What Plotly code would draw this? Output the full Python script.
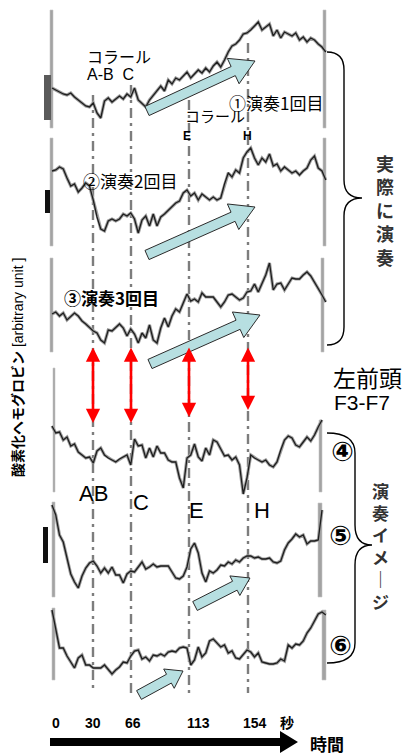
import plotly.graph_objects as go

W, H = 406, 755

# ---------------- data ----------------
# sample times (s) on the recording grid
t = list(range(0, 220, 3))

# oxy-Hb traces (arbitrary units), six recordings
p1 = [37, 35, 33, 31, 30, 32, 28, 25, 22, 19, 18, 22, 12, 7, 24, 27, 23, 26, 29, 26,
      31, 28, 37, 25, 21, 18, 25, 30, 35, 39, 34, 45, 41, 47, 45, 49, 53, 47, 51, 55,
      52, 57, 53, 59, 63, 58, 65, 73, 79, 81, 85, 91, 92, 95, 99, 103, 95, 98, 101, 89,
      95, 87, 93, 91, 89, 92, 85, 88, 83, 87, 85, 81, 78, 73]
p2 = [79, 80, 83, 81, 72, 64, 66, 58, 62, 67, 64, 50, 33, 21, 19, 29, 31, 29, 31, 36,
      34, 37, 31, 17, 30, 34, 24, 36, 24, 33, 36, 40, 43, 47, 49, 57, 60, 54, 57, 50,
      56, 53, 50, 53, 50, 52, 66, 77, 73, 80, 77, 92, 98, 102, 92, 85, 92, 88, 96, 84,
      86, 79, 83, 80, 77, 79, 75, 79, 82, 90, 94, 82, 79, 70]
p3 = [41, 43, 39, 42, 35, 39, 42, 39, 34, 31, 27, 24, 22, 15, 12, 25, 24, 28, 31, 27,
      19, 26, 21, 12, 22, 17, 30, 15, 12, 27, 37, 28, 39, 46, 43, 52, 61, 54, 56, 53,
      62, 58, 58, 58, 53, 48, 53, 60, 61, 58, 55, 57, 63, 64, 71, 63, 71, 80, 92, 65,
      71, 72, 65, 71, 77, 76, 76, 80, 83, 79, 73, 67, 60, 53]
p4 = [74, 67, 68, 60, 63, 54, 56, 48, 45, 42, 43, 37, 49, 52, 45, 42, 40, 38, 41, 43,
      45, 35, 61, 54, 55, 42, 52, 43, 54, 47, 47, 40, 38, 38, 22, 12, 42, 45, 56, 43,
      39, 52, 45, 60, 58, 51, 44, 45, 40, 43, 35, 6, 22, 45, 42, 40, 38, 40, 35, 33,
      38, 50, 60, 64, 62, 55, 53, 58, 63, 59, 65, 73, 80]
p5 = [95, 85, 65, 58, 42, 26, 18, 12, 24, 32, 37, 39, 34, 27, 32, 27, 33, 25, 25, 17,
      26, 29, 28, 33, 38, 31, 33, 36, 33, 34, 34, 34, 28, 22, 21, 24, 33, 51, 57, 47,
      27, 18, 29, 27, 30, 35, 34, 38, 36, 40, 38, 42, 44, 44, 42, 43, 41, 41, 42, 38,
      37, 39, 50, 57, 61, 66, 63, 65, 56, 59, 59, 60, 90]
p6 = [80, 62, 42, 42, 34, 28, 22, 32, 35, 25, 25, 22, 22, 22, 25, 20, 16, 20, 23, 28,
      27, 34, 39, 40, 31, 33, 29, 35, 34, 36, 34, 38, 39, 38, 42, 43, 42, 25, 30, 43,
      33, 37, 49, 51, 47, 43, 45, 37, 39, 32, 31, 35, 40, 38, 33, 37, 28, 27, 26, 26,
      27, 31, 29, 45, 42, 46, 45, 49, 57, 62, 69, 76, 78, 75]
series = [p1, p2, p3, p4, p5, p6]

# event markers (position on the time axis) and their labels
event_pos = [32.8, 63.2, 109.6, 156.8]
tick_pos = [3.2, 32.8, 64.8, 116.8, 162.4, 188.0]
tick_text = ["0", "30", "66", "113", "154", "秒"]

# ---------------- layout helpers ----------------
XR = [-41.6, 283.2]                      # time-axis range across the full width
panels = [(5, 125), (130, 250), (253, 355), (362, 500), (502, 600), (602, 690)]


def fx(x):
    return x / W


def fy(y):
    return 1 - y / H


LAT = "Liberation Sans, Arial, Noto Sans CJK JP, sans-serif"
JP = "Noto Sans CJK JP, Liberation Sans, sans-serif"
CIRC = "DejaVu Sans, Noto Sans CJK JP, sans-serif"
fig = go.Figure()

for i, vals in enumerate(series):
    ya = "y" if i == 0 else f"y{i+1}"
    fig.add_trace(go.Scatter(x=t[:len(vals)], y=vals, xaxis="x", yaxis=ya, mode="lines",
                             line=dict(color="#a0a0a0", width=3.2), hoverinfo="skip",
                             showlegend=False))
    fig.add_trace(go.Scatter(x=t[:len(vals)], y=vals, xaxis="x", yaxis=ya, mode="lines",
                             line=dict(color="#1e1e1e", width=1.3), showlegend=False))

layout = dict(
    width=W, height=H, margin=dict(l=0, r=0, t=0, b=0),
    paper_bgcolor="white", plot_bgcolor="rgba(0,0,0,0)",
    font=dict(family=LAT, color="black"),
    showlegend=False,
    xaxis=dict(range=XR, domain=[0, 1], visible=False, fixedrange=True),
)
for i, (top, bot) in enumerate(panels):
    key = "yaxis" if i == 0 else f"yaxis{i+1}"
    layout[key] = dict(domain=[fy(bot), fy(top)], range=[0, bot - top], visible=False,
                       anchor="x", fixedrange=True)
fig.update_layout(**layout)

shapes = []

# event dashed lines
ev_tops = [95, 85, 100, 43]
for xp, top in zip(event_pos, ev_tops):
    shapes.append(dict(type="line", xref="x", yref="paper", x0=xp, x1=xp,
                       y0=fy(top), y1=fy(693), layer="below",
                       line=dict(color="#7d7d7d", width=2.4, dash="10px,5px,3px,5px")))

# recording frame bars
bars = [(50, 53, 10, 128), (323, 326, 10, 128), (50, 53, 138, 246), (323, 326, 138, 246),
        (50, 53, 258, 352), (321, 324, 258, 352), (53, 55, 368, 492), (319, 322, 420, 492),
        (52, 55, 502, 597), (318, 322, 503, 597), (52, 55, 608, 680), (322, 326, 610, 680)]
for x0, x1, y0, y1 in bars:
    shapes.append(dict(type="rect", xref="paper", yref="paper", x0=fx(x0), x1=fx(x1),
                       y0=fy(y1), y1=fy(y0), fillcolor="#a3a3a3",
                       line=dict(color="#c8c8c8", width=0.6), layer="below"))
blocks = [(44, 51, 75, 120, "#5a5a5a"), (45, 50, 190, 213, "#111111"),
          (43, 48, 527, 563, "#111111")]
for x0, x1, y0, y1, c in blocks:
    shapes.append(dict(type="rect", xref="paper", yref="paper", x0=fx(x0), x1=fx(x1),
                       y0=fy(y1), y1=fy(y0), fillcolor=c, line=dict(width=0)))


def block_arrow(x0, y0, x1, y1, shaft, hw, hl):
    L = ((x1 - x0) ** 2 + (y1 - y0) ** 2) ** 0.5
    ux, uy = (x1 - x0) / L, (y1 - y0) / L
    nx, ny = -uy, ux
    bx, by = x1 - ux * hl, y1 - uy * hl
    pts = [(x0 + nx * shaft / 2, y0 + ny * shaft / 2),
           (bx + nx * shaft / 2, by + ny * shaft / 2),
           (bx + nx * hw / 2, by + ny * hw / 2),
           (x1, y1),
           (bx - nx * hw / 2, by - ny * hw / 2),
           (bx - nx * shaft / 2, by - ny * shaft / 2),
           (x0 - nx * shaft / 2, y0 - ny * shaft / 2)]
    return "M " + " L ".join(f"{fx(a):.5f},{fy(b):.5f}" for a, b in pts) + " Z"


for a in [(147, 111, 255, 61, 10, 28, 24), (147, 255, 255, 207, 10, 28, 24),
          (150, 364, 260, 315, 10, 28, 24), (195, 606, 250, 578, 10, 22, 17),
          (139, 695, 183, 671, 10, 22, 16)]:
    shapes.append(dict(type="path", xref="paper", yref="paper", path=block_arrow(*a),
                       fillcolor="#b7dfe1", line=dict(color="#2b2b2b", width=1)))

# black time arrow
shapes.append(dict(type="path", xref="paper", yref="paper",
                   path=block_arrow(50, 742, 298, 742, 8, 22, 18),
                   fillcolor="black", line=dict(width=0)))


def brace(xe, xv, xt, ytop, ymid, ybot, r):
    pts = (f"M {fx(xe)},{fy(ytop)} Q {fx(xv)},{fy(ytop)} {fx(xv)},{fy(ytop + r)} "
           f"L {fx(xv)},{fy(ymid - r)} Q {fx(xv)},{fy(ymid)} {fx(xt)},{fy(ymid)} "
           f"Q {fx(xv)},{fy(ymid)} {fx(xv)},{fy(ymid + r)} "
           f"L {fx(xv)},{fy(ybot - r)} Q {fx(xv)},{fy(ybot)} {fx(xe)},{fy(ybot)}")
    return pts


shapes.append(dict(type="path", xref="paper", yref="paper", path=brace(327, 344, 362, 52, 198, 345, 18),
                   line=dict(color="black", width=1.4)))
shapes.append(dict(type="path", xref="paper", yref="paper", path=brace(327, 355, 372, 433, 545, 663, 20),
                   line=dict(color="black", width=1.4)))

fig.update_layout(shapes=shapes)

ann = []


def txt(s, x, y, size, bold=False, color="black", angle=0, fam=JP, anchor="center"):
    ann.append(dict(text=f"<b>{s}</b>" if bold else s, x=fx(x), y=fy(y), xref="paper",
                    yref="paper", showarrow=False, xanchor=anchor, yanchor="middle",
                    textangle=angle, font=dict(size=size, color=color, family=fam)))


txt("コラール", 85, 56, 16, anchor="left")
txt("A-B\u00a0\u00a0C", 85, 75, 16, fam=LAT, anchor="left")
txt("①演奏1回目", 227, 103, 17, anchor="left")
txt("コラール", 183, 116, 15, anchor="left")
txt("E", 187, 136, 12, True, fam=LAT)
txt("H", 247, 136, 12, True, fam=LAT)
txt("②演奏2回目", 81, 180, 17, anchor="left")
txt("③演奏3回目", 62, 298, 17, True, anchor="left")
txt("AB", 93, 493, 22, fam=LAT)
txt("C", 141, 502, 22, fam=LAT)
txt("E", 196, 511, 22, fam=LAT)
txt("H", 262, 511, 22, fam=LAT)
txt("左前頭", 331, 377, 23, anchor="left")
txt("F3-F7", 332, 402, 21, fam=LAT, anchor="left")
txt("④", 342, 451, 27, True, fam=CIRC)
txt("⑤", 340, 535, 27, True, fam=CIRC)
txt("⑥", 340, 645, 27, True, fam=CIRC)
txt("実<br>際<br>に<br>演<br>奏", 385, 210, 18, True, "#333333")
txt("演<br>奏<br>イ<br>メ<br>｜<br>ジ", 380, 546, 17, True, "#333333")
txt("<b>酸素化ヘモグロビン</b> [arbitrary unit ]", 18, 368, 14, False, "black", -90, LAT)
txt("時間", 327, 743, 17, True)

for pos, lab in zip(tick_pos, tick_text):
    ann.append(dict(text=f"<b>{lab}</b>", x=pos, y=fy(723), xref="x", yref="paper",
                    showarrow=False, xanchor="center", yanchor="middle",
                    font=dict(size=14, family=LAT)))

# red double-headed arrows linking the performed runs to the imagery runs
red_bottom = [423, 423, 417, 410]
for pos, yb in zip(event_pos, red_bottom):
    ann.append(dict(x=pos, y=fy(yb), xref="x", yref="paper", ax=0, ay=-(yb - 346),
                    axref="pixel", ayref="pixel", showarrow=True, arrowhead=2,
                    startarrowhead=2, arrowside="end+start", arrowsize=1.1, startarrowsize=1.1,
                    arrowwidth=2.6, arrowcolor="#ff0000", text=""))

fig.update_layout(annotations=ann)
fig.write_html("out.html", config={"displayModeBar": False},
               post_script="document.body.style.margin='0';document.body.style.overflow='hidden';")
